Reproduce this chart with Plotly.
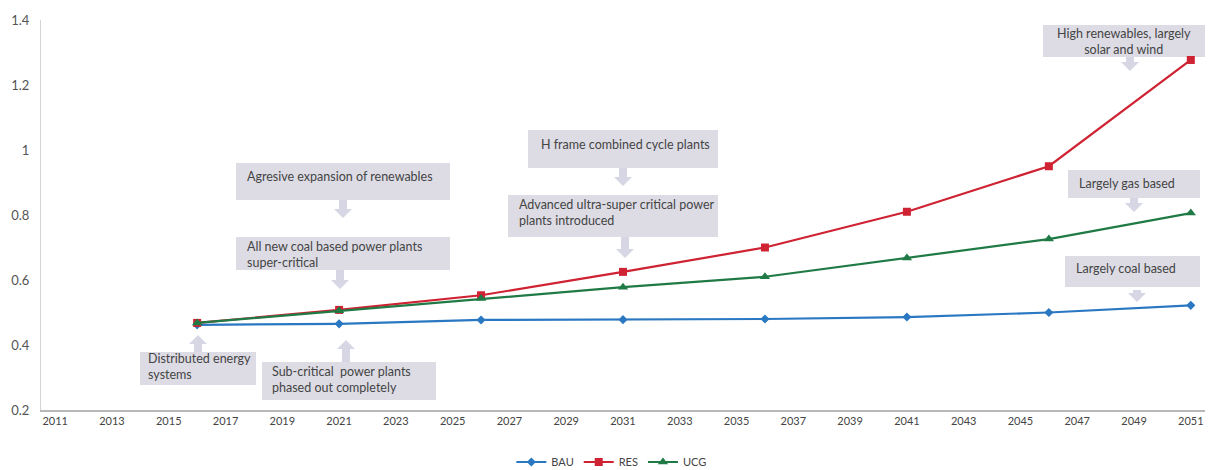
import plotly.graph_objects as go

years = [2016, 2021, 2026, 2031, 2036, 2041, 2046, 2051]
bau = [0.462, 0.465, 0.477, 0.478, 0.480, 0.486, 0.500, 0.522]
res = [0.468, 0.508, 0.553, 0.625, 0.700, 0.810, 0.950, 1.277]
ucg = [0.468, 0.505, 0.543, 0.578, 0.610, 0.668, 0.726, 0.806]
x_ticks = list(range(2011, 2052, 2))
y_ticks = [0.2, 0.4, 0.6, 0.8, 1.0, 1.2, 1.4]
y_tick_text = ["0.2", "0.4", "0.6", "0.8", "1", "1.2", "1.4"]

W, H = 1214, 470
PL, PR, PT, PB = 41, 1205, 20, 410
XR = [2010.5, 2051.5]
YR = [0.2, 1.4]

def dx(px):
    return XR[0] + (px - PL) / (PR - PL) * (XR[1] - XR[0])

def dy(py):
    return YR[0] + (PB - py) / (PB - PT) * (YR[1] - YR[0])

fig = go.Figure()
fig.add_trace(go.Scatter(x=years, y=bau, name="BAU", mode="lines+markers",
                         line=dict(color="#2a78c2", width=2.2),
                         marker=dict(symbol="diamond", size=7, color="#2a78c2")))
fig.add_trace(go.Scatter(x=years, y=res, name="RES", mode="lines+markers",
                         line=dict(color="#cf2232", width=2.2),
                         marker=dict(symbol="square", size=8, color="#cf2232")))
fig.add_trace(go.Scatter(x=years, y=ucg, name="UCG", mode="lines+markers",
                         line=dict(color="#1f7a45", width=2.2),
                         marker=dict(symbol="triangle-up", size=9, color="#1f7a45")))

boxes = [
    (236, 450, 163, 200, "Agresive expansion of renewables", "left", 245, 176, (343, 200, 218)),
    (236, 450, 237, 270, "All new coal based power plants<br>super-critical", "left", 245, 254, (340, 270, 289)),
    (140, 256, 352, 385, "Distributed energy<br>systems", "left", 146, 366, (198, 352, 335)),
    (262, 436, 362, 400, "Sub-critical  power plants<br>phased out completely", "left", 270, 379, (346, 362, 340)),
    (528, 718, 130, 168, "H frame combined cycle plants", "left", 539, 144, (623, 168, 186)),
    (508, 718, 195, 237, "Advanced ultra-super critical power<br>plants introduced", "left", 517, 212, (625, 237, 258)),
    (1043, 1205, 25, 57, "High renewables, largely<br>solar and wind", "center", 1124, 41, (1130, 57, 71)),
    (1068, 1200, 170, 198, "Largely gas based", "left", 1077, 183, (1134, 198, 212)),
    (1065, 1200, 256, 287, "Largely coal based", "left", 1074, 268, (1137, 290, 302)),
]

shapes = []
annotations = []
for (x0, x1, y0, y1, text, align, tx, ty, arrow) in boxes:
    shapes.append(dict(type="rect", xref="x", yref="y", x0=dx(x0), x1=dx(x1), y0=dy(y1), y1=dy(y0),
                       fillcolor="#dddce4", line=dict(width=0), layer="below"))
    annotations.append(dict(xref="x", yref="y", x=dx(tx), y=dy(ty), text=text, showarrow=False,
                            xanchor="left" if align == "left" else "center", yanchor="middle",
                            align=align, font=dict(family="Lato, Noto Sans, sans-serif", size=12.5, color="#444")))
    cx, base, tip = arrow
    sgn = 1 if tip > base else -1
    hw, sw, hl = 9, 4, 9
    neck = tip - sgn * hl
    pts = [(cx - sw, base), (cx + sw, base), (cx + sw, neck), (cx + hw, neck), (cx, tip),
           (cx - hw, neck), (cx - sw, neck)]
    path = "M " + " L ".join(f"{dx(p[0])},{dy(p[1])}" for p in pts) + " Z"
    shapes.append(dict(type="path", xref="x", yref="y", path=path,
                       fillcolor="#d6d6e4", line=dict(width=0), layer="below"))

fig.update_layout(
    width=W, height=H,
    margin=dict(l=PL, r=W - PR, t=PT, b=H - PB, autoexpand=False),
    plot_bgcolor="white", paper_bgcolor="white",
    shapes=shapes, annotations=annotations,
    showlegend=True,
    legend=dict(orientation="h", x=0.49, xanchor="center", y=-(462 - PB) / (PB - PT), yanchor="middle",
                font=dict(family="Liberation Sans Narrow, Lato, sans-serif", size=11, color="#444"),
                itemwidth=30, tracegroupgap=0),
    xaxis=dict(range=XR, tickmode="array", tickvals=x_ticks, ticktext=[str(v) for v in x_ticks],
               showgrid=False, zeroline=False, showline=True, linecolor="#b8b8b8", linewidth=1.5,
               ticks="", tickfont=dict(family="Liberation Sans Narrow, Lato, sans-serif", size=11, color="#444")),
    yaxis=dict(range=YR, tickmode="array", tickvals=y_ticks, ticktext=y_tick_text,
               showgrid=False, zeroline=False, showline=True, linecolor="#d4d4d4", linewidth=1,
               ticks="", ticklabelstandoff=8,
               tickfont=dict(family="Lato, Noto Sans, sans-serif", size=13, color="#555")),
)

fig.write_html("out.html", config={"displayModeBar": False},
               post_script="document.body.style.margin='0';document.body.style.overflow='hidden';")
